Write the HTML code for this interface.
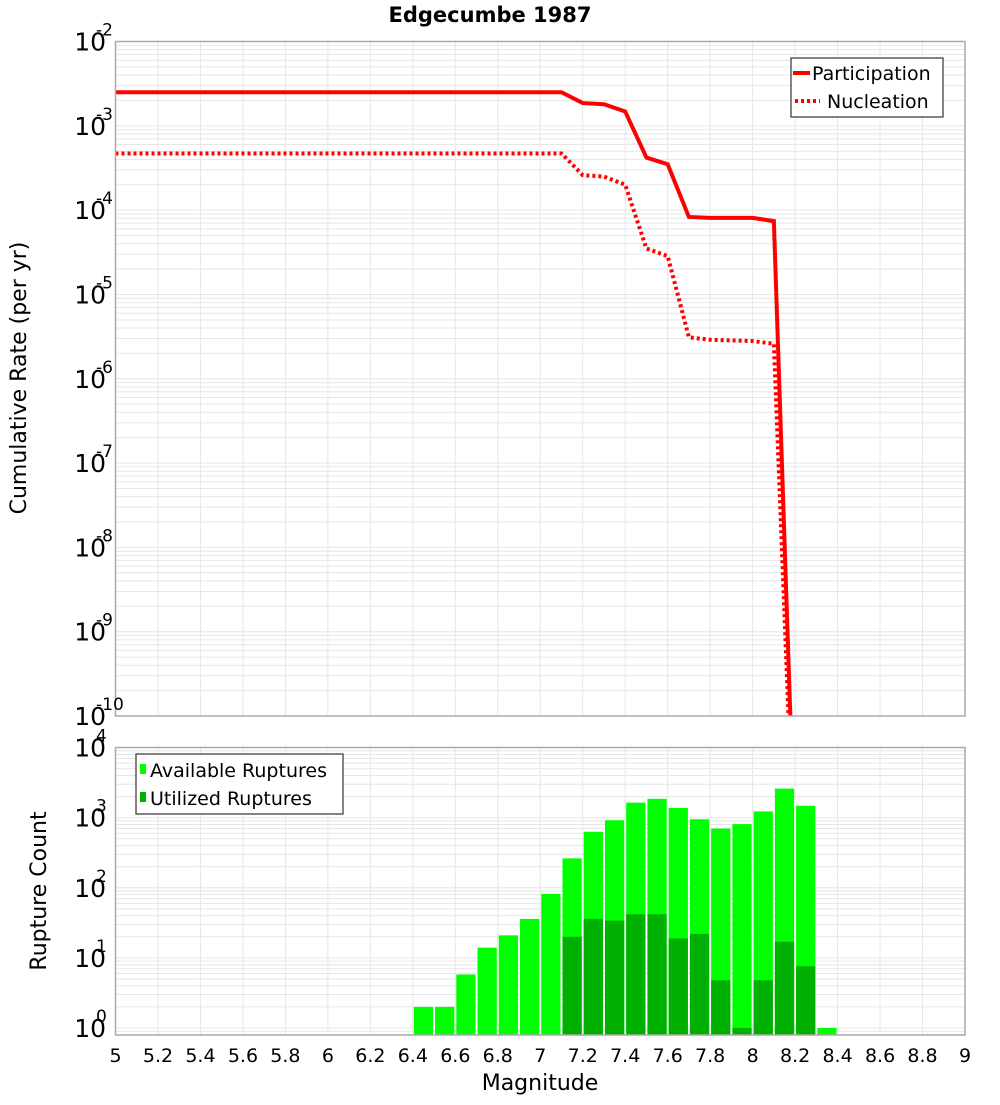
<!DOCTYPE html>
<html><head><meta charset="utf-8"><style>
body{margin:0;background:#fff}
svg text{font-family:"DejaVu Sans","Liberation Sans",sans-serif}
</style></head><body>
<svg id="chart" width="1000" height="1100" xmlns="http://www.w3.org/2000/svg">
<text x="490" y="22" text-anchor="middle" font-size="21" font-weight="bold">Edgecumbe 1987</text>
<g id="topg"></g>
<g id="botg"></g>
<text transform="translate(26,378) rotate(-90)" text-anchor="middle" font-size="22">Cumulative Rate (per yr)</text>
<text transform="translate(46,891) rotate(-90)" text-anchor="middle" font-size="22">Rupture Count</text>
<text x="540" y="1090" text-anchor="middle" font-size="22">Magnitude</text>
</svg>
<script>
const mags=[5,5.1,5.2,5.3,5.4,5.5,5.6,5.7,5.8,5.9,6,6.1,6.2,6.3,6.4,6.5,6.6,6.7,6.8,6.9,7,7.1,7.2,7.3,7.4,7.5,7.6,7.7,7.8,7.9,8,8.1,8.2];
const participation=[2.5e-3,2.5e-3,2.5e-3,2.5e-3,2.5e-3,2.5e-3,2.5e-3,2.5e-3,2.5e-3,2.5e-3,2.5e-3,2.5e-3,2.5e-3,2.5e-3,2.5e-3,2.5e-3,2.5e-3,2.5e-3,2.5e-3,2.5e-3,2.5e-3,2.5e-3,1.86e-3,1.8e-3,1.48e-3,4.2e-4,3.5e-4,8.3e-5,8.1e-5,8.1e-5,8.1e-5,7.4e-5,2e-12];
const nucleation=[4.7e-4,4.7e-4,4.7e-4,4.7e-4,4.7e-4,4.7e-4,4.7e-4,4.7e-4,4.7e-4,4.7e-4,4.7e-4,4.7e-4,4.7e-4,4.7e-4,4.7e-4,4.7e-4,4.7e-4,4.7e-4,4.7e-4,4.7e-4,4.7e-4,4.7e-4,2.6e-4,2.5e-4,2.0e-4,3.5e-5,2.85e-5,3.1e-6,2.9e-6,2.85e-6,2.8e-6,2.6e-6,1e-12];
const binMags=[6.45,6.55,6.65,6.75,6.85,6.95,7.05,7.15,7.25,7.35,7.45,7.55,7.65,7.75,7.85,7.95,8.05,8.15,8.25,8.35];
const available=[2,2,5.8,14,21,36,82,263,630,920,1640,1860,1380,950,700,810,1230,2600,1480,1];
const utilized=[0,0,0,0,0,0,0,20,36,34,42,42,19,22,4.8,1,4.8,17,7.6,0];
const xTicks=[5,5.2,5.4,5.6,5.8,6,6.2,6.4,6.6,6.8,7,7.2,7.4,7.6,7.8,8,8.2,8.4,8.6,8.8,9];
const rateDecades=[-2,-3,-4,-5,-6,-7,-8,-9,-10];
const countDecades=[0,1,2,3,4];

const NS="http://www.w3.org/2000/svg";
const L=115.5,R=965;
const x=m=>L+(m-5)/4*(R-L);
const T1=41.5,B1=716, yR=v=>T1+(-2-Math.log10(v))*(B1-T1)/8;
const T2=747.5,B2=1035, yC=v=>1028-Math.log10(v)*70.1;
function mk(p,tag,a){const e=document.createElementNS(NS,tag);for(const k in a)e.setAttribute(k,a[k]);p.appendChild(e);return e;}
const topG=document.getElementById('topg'),botG=document.getElementById('botg');
const svgEl=document.getElementById('chart');
const defs=mk(svgEl,'defs',{});
const c1=mk(defs,'clipPath',{id:'c1'});mk(c1,'rect',{x:L,y:T1,width:R-L,height:B1-T1});
const c2=mk(defs,'clipPath',{id:'c2'});mk(c2,'rect',{x:L,y:T2,width:R-L,height:B2-T2});

function grid(g,T,B,yf,lo,hi){
  for(let d=lo;d<hi;d++)for(let k=1;k<10;k++){const yy=yf(k*Math.pow(10,d));if(yy<T||yy>B)continue;
    const l=mk(g,'line',{x1:L,x2:R,y1:yy,y2:yy,stroke:'#e6e6e6','stroke-width':1});
    
    }
  xTicks.forEach(t=>{const l=mk(g,'line',{x1:x(t),x2:x(t),y1:T,y2:B,stroke:'#e6e6e6','stroke-width':1});
    
    });
}
grid(topG,T1,B1,yR,-11,-1);
grid(botG,T2,B2,yC,-1,5);

function line(vals,dash,name){
  const pts=mags.map((m,i)=>x(m)+','+yR(vals[i])).join(' ');
  const p=mk(topG,'polyline',{points:pts,fill:'none',stroke:'#ff0000','stroke-width':4,'clip-path':'url(#c1)'});
  if(dash)p.setAttribute('stroke-dasharray',dash);
  
  
}
line(participation,null,'participation-line');
line(nucleation,'3,3','nucleation-line');

const bw=(x(5.1)-x(5))-2;
binMags.forEach((m,i)=>{
  const yt=yC(available[i]);
  const r=mk(botG,'rect',{x:x(m)-bw/2,y:yt,width:bw,height:Math.max(0,B2-yt),fill:'#00ff00','clip-path':'url(#c2)'});
  
  
  if(utilized[i]>0){const yu=yC(utilized[i]);
    const u=mk(botG,'rect',{x:x(m)-bw/2,y:yu,width:bw,height:Math.max(0,B2-yu),fill:'#00b000','clip-path':'url(#c2)'});
    
    }
});

[[topG,T1,B1],[botG,T2,B2]].forEach(([g,T,B])=>{const f=mk(g,'rect',{x:L,y:T,width:R-L,height:B-T,fill:'none',stroke:'#aaaaaa','stroke-width':1.5});
  
  });

function ylab(g,yy,exp,name){
  const t=mk(g,'text',{x:106,y:yy+9,'text-anchor':'end','font-size':25});
  
  
  t.textContent='10';
  const s=mk(g,'text',{x:96,y:yy-6,'text-anchor':'start','font-size':17});
  
  
  s.textContent=exp;
}
rateDecades.forEach(d=>ylab(topG,yR(Math.pow(10,d)),String(d),'rate-tick-label'));
countDecades.forEach(d=>ylab(botG,yC(Math.pow(10,d)),String(d),'count-tick-label'));

xTicks.forEach(t=>{const e=mk(botG,'text',{x:x(t),y:1062,'text-anchor':'middle','font-size':19});
  
  
  e.textContent=String(t);});

const lg=mk(topG,'g',{});


mk(lg,'rect',{x:791,y:58,width:152,height:59,fill:'#fff',stroke:'#333','stroke-width':1.2});
mk(lg,'line',{x1:793,x2:810,y1:73,y2:73,stroke:'#f00','stroke-width':4});
mk(lg,'line',{x1:795,x2:820,y1:101,y2:101,stroke:'#f00','stroke-width':4,'stroke-dasharray':'3,3'});
let tx=mk(lg,'text',{x:812,y:80,'font-size':19});tx.textContent='Participation';


tx=mk(lg,'text',{x:827,y:108,'font-size':19});tx.textContent='Nucleation';



const lb=mk(botG,'g',{});


mk(lb,'rect',{x:136,y:754,width:207,height:60,fill:'#fff',stroke:'#333','stroke-width':1.2});
mk(lb,'rect',{x:140,y:764,width:6,height:10,fill:'#00ff00'});
mk(lb,'rect',{x:140,y:792,width:6,height:10,fill:'#00b000'});
tx=mk(lb,'text',{x:150,y:777,'font-size':19});tx.textContent='Available Ruptures';


tx=mk(lb,'text',{x:150,y:805,'font-size':19});tx.textContent='Utilized Ruptures';


</script>
</body></html>
